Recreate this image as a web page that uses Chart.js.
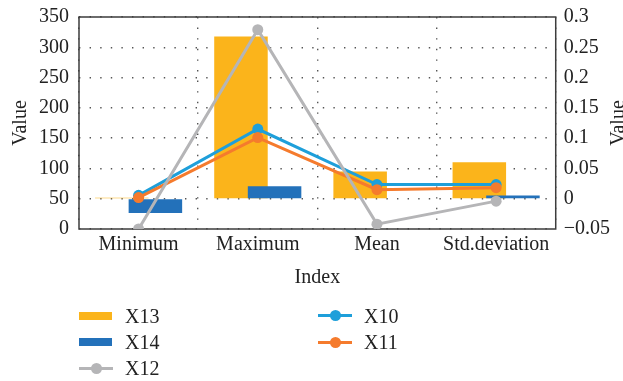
<!DOCTYPE html>
<html>
<head>
<meta charset="utf-8">
<script src="https://cdn.jsdelivr.net/npm/chart.js@4.4.1/dist/chart.umd.min.js"></script>
<style>
  html, body { margin: 0; padding: 0; background: #fff; }
  #wrap { position: relative; width: 623px; height: 381px; overflow: hidden; }
  #chart { position: absolute; left: 0; top: 0; }
  .lg { position: absolute; font-family: "Liberation Serif", serif; font-size: 20px; line-height: 20px; color: #222; white-space: nowrap; }
  .bar { position: absolute; width: 33px; height: 8px; }
  .ln { position: absolute; width: 34px; height: 3px; }
  .dot { position: absolute; width: 11px; height: 11px; border-radius: 50%; }
</style>
</head>
<body>
<div id="wrap">
  <canvas id="chart" width="623" height="381"></canvas>
  <div id="legend"></div>
</div>
<script>
// Categories and values (bars and lines share the right axis, bars start at 0)
const categories = ["Minimum", "Maximum", "Mean", "Std.deviation"];
const x13 = [0.0015, 0.268, 0.045, 0.06];
const x14 = [-0.0235, 0.0205, -0.001, 0.0055];
const x12 = [-0.05, 0.279, -0.042, -0.004];
const x10 = [0.0056, 0.115, 0.0233, 0.0233];
const x11 = [0.0018, 0.101, 0.015, 0.0183];

// Tick labels
const leftTicks = [0, 50, 100, 150, 200, 250, 300, 350];
const rightTicks = [-0.05, 0, 0.05, 0.1, 0.15, 0.2, 0.25, 0.3];

const colors = {
  x13: "#FBB41B",
  x14: "#2371BA",
  x12: "#B5B5B7",
  x10: "#1E9FDA",
  x11: "#F57B2D",
};

const FONT = "'Liberation Serif', 'Times New Roman', serif";
const TEXT = "#222";
const GRID = "#555";
const barShift = 0.141; // bars of a category overlap a little, like the source

Chart.defaults.font.family = FONT;
Chart.defaults.font.size = 20;
Chart.defaults.color = TEXT;

// Draw the full box around the plot area
const framePlugin = {
  id: "frame",
  beforeDatasetsDraw(chart) {
    const { ctx, chartArea: a } = chart;
    ctx.save();
    ctx.strokeStyle = "#3d3d3d";
    ctx.lineWidth = 1.5;
    ctx.strokeRect(a.left, a.top, a.right - a.left, a.bottom - a.top);
    ctx.restore();
  },
  afterDraw(chart) {
    // right axis title, reading upwards and cut by the edge like the source
    const { ctx, chartArea: a } = chart;
    ctx.save();
    ctx.font = "20px " + FONT;
    ctx.fillStyle = TEXT;
    ctx.translate(624, (a.top + a.bottom) / 2);
    ctx.rotate(-Math.PI / 2);
    ctx.textAlign = "center";
    ctx.textBaseline = "alphabetic";
    ctx.fillText("Value", 0, 0);
    ctx.restore();
  },
};

function lineSet(label, data, color) {
  return {
    type: "line",
    label: label,
    data: data,
    xAxisID: "x",
    yAxisID: "y1",
    borderColor: color,
    backgroundColor: color,
    borderWidth: 3,
    pointRadius: 5.5,
    pointBorderWidth: 0,
    pointBackgroundColor: color,
    tension: 0,
    order: 0,
  };
}

function barSet(label, data, color, axis, order) {
  return {
    type: "bar",
    label: label,
    data: data.map((v, i) => ({ x: i, y: v })),
    xAxisID: axis,
    yAxisID: "y1",
    backgroundColor: color,
    borderWidth: 0,
    grouped: false,
    barPercentage: 1,
    categoryPercentage: 0.449,
    order: order,
  };
}

function hiddenIndexAxis(shift) {
  return {
    type: "linear",
    display: false,
    offset: false,
    grid: { offset: false },
    min: -0.5 + shift,
    max: categories.length - 0.5 + shift,
    afterBuildTicks: (axis) => {
      axis.ticks = categories.map((c, i) => ({ value: i }));
    },
  };
}

const dottedGrid = { color: GRID, lineWidth: 1.4, drawTicks: false };
const dottedBorder = { display: false, dash: [1.4, 9.2] };

new Chart(document.getElementById("chart"), {
  type: "bar",
  data: {
    labels: categories,
    datasets: [
      // the first dataset is drawn last, so it sits on top
      lineSet("X12", x12, colors.x12),
      lineSet("X11", x11, colors.x11),
      lineSet("X10", x10, colors.x10),
      barSet("X14", x14, colors.x14, "xb", 1),
      barSet("X13", x13, colors.x13, "xa", 2),
    ],
  },
  options: {
    responsive: false,
    animation: false,
    layout: { padding: { top: 17, right: 5, bottom: 91, left: 0 } },
    plugins: {
      legend: { display: false },
      tooltip: { enabled: false },
    },
    scales: {
      x: {
        type: "category",
        offset: true,
        grid: Object.assign({ offset: true }, dottedGrid),
        border: dottedBorder,
        ticks: { padding: 3.5, color: TEXT, maxRotation: 0, autoSkip: false },
        title: { display: true, text: "Index", color: TEXT, padding: { top: 6, bottom: 0 } },
      },
      xa: hiddenIndexAxis(barShift),
      xb: hiddenIndexAxis(-barShift),
      y: {
        type: "linear",
        position: "left",
        min: leftTicks[0],
        max: leftTicks[leftTicks.length - 1],
        afterBuildTicks: (axis) => {
          axis.ticks = leftTicks.map((v) => ({ value: v }));
        },
        grid: dottedGrid,
        border: dottedBorder,
        ticks: { padding: 10, color: TEXT, font: { lineHeight: 0.6 } },
        title: { display: true, text: "Value", color: TEXT, padding: { top: 9, bottom: -4 } },
      },
      y1: {
        type: "linear",
        position: "right",
        min: rightTicks[0],
        max: rightTicks[rightTicks.length - 1],
        afterBuildTicks: (axis) => {
          axis.ticks = rightTicks.map((v) => ({ value: v }));
        },
        grid: { drawOnChartArea: false, drawTicks: false },
        border: { display: false },
        ticks: {
          padding: 8,
          color: TEXT,
          font: { lineHeight: 0.6 },
          callback: (v) => String(v).replace("-", "\u2212"),
        },
      },
    },
  },
  plugins: [framePlugin],
});

// Legend in two columns below the chart
const legendItems = [
  { label: "X13", kind: "bar", color: colors.x13, x: 79, y: 315.5 },
  { label: "X14", kind: "bar", color: colors.x14, x: 79, y: 342 },
  { label: "X12", kind: "line", color: colors.x12, x: 79, y: 368 },
  { label: "X10", kind: "line", color: colors.x10, x: 318, y: 315.5 },
  { label: "X11", kind: "line", color: colors.x11, x: 318, y: 342 },
];

const legend = document.getElementById("legend");
legendItems.forEach((it) => {
  if (it.kind === "bar") {
    const sw = document.createElement("div");
    sw.className = "bar";
    sw.style.left = it.x + "px";
    sw.style.top = it.y - 4 + "px";
    sw.style.background = it.color;
    legend.appendChild(sw);
  } else {
    const ln = document.createElement("div");
    ln.className = "ln";
    ln.style.left = it.x + "px";
    ln.style.top = it.y - 1.5 + "px";
    ln.style.background = it.color;
    legend.appendChild(ln);
    const dot = document.createElement("div");
    dot.className = "dot";
    dot.style.left = it.x + 17 - 5.5 + "px";
    dot.style.top = it.y - 5.5 + "px";
    dot.style.background = it.color;
    legend.appendChild(dot);
  }
  const t = document.createElement("div");
  t.className = "lg";
  t.textContent = it.label;
  t.style.left = it.x + 46 + "px";
  t.style.top = it.y - 10 + "px";
  legend.appendChild(t);
});
</script>
</body>
</html>
